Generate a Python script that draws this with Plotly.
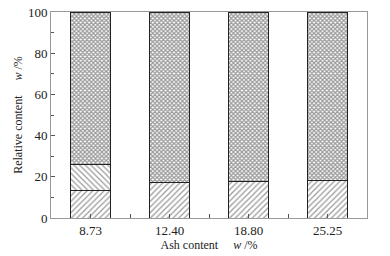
import plotly.graph_objects as go

categories = ["8.73", "12.40", "18.80", "25.25"]
seg_bottom = [13.5, 17.3, 17.6, 18.2]
seg_middle = [12.5, 0, 0, 0]
seg_top = [74.0, 82.7, 82.4, 81.8]

xpos = list(range(len(categories)))

fig = go.Figure()
def add(vals, shape, size, solidity, fg):
    fig.add_trace(go.Bar(
        x=xpos, y=vals, width=0.5,
        marker=dict(color="white", line=dict(color="#222", width=1),
                    pattern=dict(shape=shape, fgcolor=fg, bgcolor="white",
                                 size=size, solidity=solidity)),
        showlegend=False))
add(seg_bottom, "/", 4, 0.3, "#333")
add(seg_middle, "\\", 4, 0.3, "#333")
add(seg_top, "x", 3, 0.65, "#333")

font = dict(family="Liberation Serif, Times New Roman, serif", size=13, color="#222")
title_font = dict(family="Liberation Serif, Times New Roman, serif", size=12, color="#222")
axis_common = dict(showline=True, linecolor="#999", linewidth=1, mirror=True,
                   ticks="inside", tickcolor="#555", ticklen=4, showgrid=False,
                   zeroline=False, automargin=False)
fig.update_layout(
    barmode="stack",
    width=390, height=256,
    margin=dict(l=51, r=23, t=12, b=38),
    paper_bgcolor="white", plot_bgcolor="white",
    font=font,
    xaxis=dict(**axis_common, range=[-0.5, len(categories) - 0.5],
               tickmode="array", tickvals=xpos, ticktext=categories,
               minor=dict(ticks="inside", tick0=-0.5, dtick=1, ticklen=4, tickcolor="#555", showgrid=False),
               title=dict(text="Ash content&nbsp;&nbsp;&nbsp;&nbsp;&nbsp;<i>w</i> /%", standoff=0, font=title_font)),
    yaxis=dict(**axis_common, range=[0, 100], dtick=20,
               minor=dict(ticks="inside", dtick=10, ticklen=3, tickcolor="#555"),
               title=dict(text="Relative content&nbsp;&nbsp;&nbsp;&nbsp;&nbsp;<i>w</i> /%", standoff=2, font=title_font)),
)
fig.write_html("out.html", config={"displayModeBar": False},
               post_script="document.body.style.margin='0';document.body.style.padding='0';")
